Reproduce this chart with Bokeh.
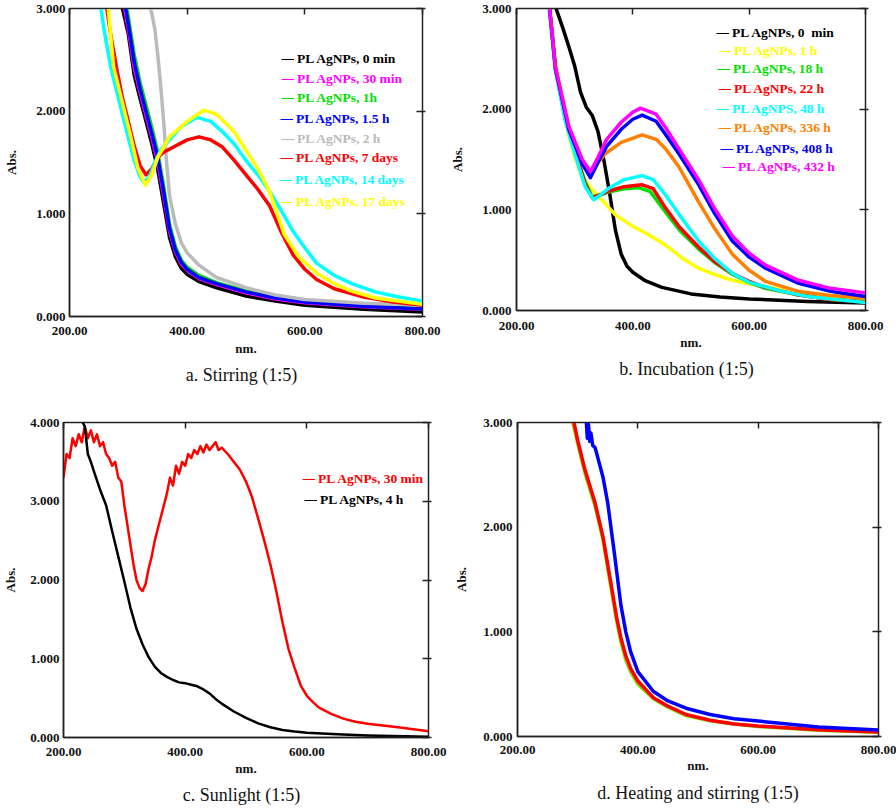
import numpy as np
from bokeh.plotting import figure
from bokeh.models import (LinearAxis, FixedTicker, PrintfTickFormatter, Range1d,
                          Legend, LegendItem, Title, CustomLabelingPolicy)
from bokeh.layouts import column, row
from bokeh.embed import file_html
from bokeh.resources import INLINE

# ---------------- data (wavelength nm, absorbance) ----------------
# Panel a: Stirring (1:5)
a_labels = ["PL AgNPs, 0 min", "PL AgNPs, 30 min", "PL AgNPs, 1h", "PL AgNPs, 1.5 h",
            "PL AgNPs, 2 h", "PL AgNPs, 7 days", "PL AgNPs, 14 days", "PL AgNPs, 17 days"]
a_colors = ["#000000", "#ff00ff", "#00e000", "#0000ff", "#bbbbbb", "#ff0000", "#00ffff", "#ffff00"]
a_nm = [
    [288, 300, 310, 320, 330, 340, 350, 360, 370, 380, 390, 400, 420, 450, 500, 550, 600, 700, 800],
    [292, 300, 310, 320, 330, 340, 350, 360, 370, 380, 390, 400, 420, 450, 500, 550, 600, 700, 800],
    [296, 300, 310, 320, 330, 340, 350, 360, 370, 380, 390, 400, 420, 450, 500, 550, 600, 700, 800],
    [294, 300, 310, 320, 330, 340, 350, 360, 370, 380, 390, 400, 420, 450, 500, 550, 600, 700, 800],
    [335, 340, 345, 350, 355, 360, 365, 370, 380, 390, 400, 420, 450, 500, 550, 600, 700, 800],
    [262, 270, 280, 290, 300, 310, 320, 330, 340, 350, 360, 380, 400, 420, 440, 460, 480, 500, 520,
     540, 560, 580, 600, 620, 650, 700, 750, 800],
    [252, 260, 270, 280, 290, 300, 310, 320, 326, 335, 345, 355, 370, 390, 417, 440, 460, 480, 500,
     520, 540, 560, 580, 600, 620, 650, 680, 720, 760, 800],
    [265, 275, 290, 303, 316, 329, 340, 350, 370, 400, 428, 450, 480, 500, 520, 540, 565, 590, 621,
     650, 678, 720, 800],
]
a_abs = [
    [3.05, 2.75, 2.35, 2.12, 1.90, 1.68, 1.43, 1.10, 0.77, 0.58, 0.47, 0.41, 0.34, 0.28, 0.20, 0.15, 0.11, 0.07, 0.045],
    [3.05, 2.80, 2.42, 2.18, 1.96, 1.74, 1.50, 1.18, 0.83, 0.63, 0.51, 0.45, 0.37, 0.31, 0.23, 0.17, 0.135, 0.095, 0.07],
    [3.05, 2.92, 2.55, 2.28, 2.06, 1.84, 1.60, 1.27, 0.90, 0.68, 0.55, 0.48, 0.40, 0.33, 0.25, 0.19, 0.15, 0.105, 0.075],
    [3.05, 2.85, 2.48, 2.22, 2.00, 1.78, 1.55, 1.22, 0.86, 0.65, 0.53, 0.46, 0.38, 0.32, 0.24, 0.18, 0.14, 0.10, 0.072],
    [3.05, 2.95, 2.80, 2.55, 2.25, 1.90, 1.50, 1.18, 0.90, 0.72, 0.62, 0.50, 0.38, 0.28, 0.21, 0.165, 0.13, 0.115],
    [3.05, 2.75, 2.42, 2.13, 1.90, 1.66, 1.47, 1.38, 1.44, 1.55, 1.60, 1.66, 1.72, 1.75, 1.72, 1.65, 1.52, 1.38, 1.24,
     1.08, 0.82, 0.60, 0.46, 0.36, 0.27, 0.19, 0.14, 0.11],
    [3.05, 2.75, 2.43, 2.20, 1.97, 1.74, 1.52, 1.36, 1.31, 1.35, 1.50, 1.62, 1.72, 1.85, 1.94, 1.90, 1.80, 1.68, 1.52,
     1.38, 1.22, 1.03, 0.83, 0.67, 0.52, 0.40, 0.32, 0.24, 0.19, 0.15],
    [3.05, 2.43, 2.08, 1.78, 1.45, 1.28, 1.38, 1.55, 1.75, 1.90, 2.01, 1.97, 1.80, 1.62, 1.44, 1.22, 0.80, 0.58, 0.42,
     0.32, 0.25, 0.18, 0.12],
]

# Panel b: Incubation (1:5)
b_labels = ["PL AgNPs, 0  min", "PL AgNPs, 1 h", "PL AgNPs, 18 h", "PL AgNPs, 22 h",
            "PL AgNPS, 48 h", "PL AgNPs, 336 h", "PL AgNPs, 408 h", "PL AgNPs, 432 h"]
b_colors = ["#000000", "#ffff00", "#00e000", "#ff0000", "#00ffff", "#ff8000", "#0000ff", "#ff00ff"]
b_nm = [
    [265, 280, 290, 300, 310, 320, 330, 340, 350, 360, 370, 380, 390, 400, 420, 450, 500, 550, 600, 700, 800],
    [257, 267, 280, 290, 300, 313, 330, 353, 370, 399, 428, 456, 485, 513, 540, 571, 600, 657, 700, 800],
    [256, 267, 284, 301, 318, 330, 345, 360, 385, 410, 430, 456, 480, 513, 540, 571, 600, 628, 680, 740, 800],
    [256, 267, 284, 301, 318, 330, 345, 360, 385, 415, 435, 456, 480, 513, 540, 571, 600, 628, 680, 740, 800],
    [255, 267, 284, 301, 318, 333, 345, 360, 385, 416, 435, 456, 480, 513, 540, 571, 600, 657, 700, 800],
    [256, 267, 290, 313, 327, 340, 353, 380, 416, 440, 456, 480, 513, 540, 571, 600, 628, 685, 740, 800],
    [256, 267, 290, 313, 327, 340, 355, 380, 400, 416, 440, 456, 480, 513, 540, 571, 600, 628, 685, 740, 800],
    [256, 267, 290, 313, 327, 340, 355, 380, 400, 413, 440, 456, 480, 513, 540, 571, 600, 628, 685, 740, 800],
]
b_abs = [
    [3.05, 2.80, 2.62, 2.43, 2.17, 2.02, 1.94, 1.78, 1.50, 1.17, 0.80, 0.56, 0.44, 0.38, 0.30, 0.23, 0.165, 0.135, 0.115, 0.09, 0.075],
    [3.05, 2.50, 2.02, 1.74, 1.53, 1.32, 1.20, 1.06, 0.95, 0.84, 0.75, 0.65, 0.52, 0.42, 0.36, 0.30, 0.265, 0.21, 0.17, 0.11],
    [3.05, 2.40, 1.90, 1.57, 1.28, 1.13, 1.15, 1.18, 1.21, 1.22, 1.18, 0.98, 0.80, 0.61, 0.48, 0.36, 0.28, 0.22, 0.16, 0.11, 0.09],
    [3.05, 2.40, 1.90, 1.57, 1.26, 1.12, 1.15, 1.19, 1.23, 1.25, 1.21, 1.02, 0.83, 0.63, 0.49, 0.37, 0.29, 0.23, 0.16, 0.11, 0.085],
    [3.05, 2.38, 1.88, 1.54, 1.23, 1.10, 1.15, 1.22, 1.30, 1.34, 1.30, 1.15, 0.95, 0.69, 0.52, 0.37, 0.28, 0.19, 0.14, 0.08],
    [3.05, 2.40, 1.80, 1.46, 1.33, 1.47, 1.56, 1.67, 1.745, 1.70, 1.61, 1.42, 1.08, 0.82, 0.56, 0.40, 0.29, 0.19, 0.15, 0.125],
    [3.05, 2.40, 1.80, 1.46, 1.32, 1.47, 1.63, 1.80, 1.90, 1.94, 1.88, 1.75, 1.55, 1.25, 0.97, 0.69, 0.53, 0.42, 0.27, 0.19, 0.14],
    [3.05, 2.42, 1.83, 1.50, 1.38, 1.52, 1.70, 1.87, 1.97, 2.01, 1.95, 1.82, 1.60, 1.30, 1.02, 0.74, 0.57, 0.45, 0.30, 0.22, 0.175],
]

# Panel c: Sunlight (1:5)
c_labels = ["PL AgNPs, 30 min", "PL AgNPs, 4 h"]
c_colors = ["#ff0000", "#000000"]
c_nm = [
    [200, 205, 210, 215, 220, 225, 230, 235, 240, 245, 250, 255, 260, 265, 270, 275, 280, 285, 290, 295,
     300, 305, 310, 315, 320, 325, 330, 335, 340, 345, 350, 355, 360, 365, 370, 375, 380, 385, 390, 395,
     400, 405, 410, 415, 420, 425, 430, 435, 440, 445, 450, 455, 460, 470, 480, 490, 500, 510, 520, 530,
     540, 550, 560, 570, 580, 590, 600, 610, 620, 640, 660, 680, 700, 750, 800],
    [225, 235, 240, 245, 250, 260, 270, 280, 290, 300, 310, 320, 330, 340, 350, 360, 370, 380, 390, 400,
     410, 420, 430, 440, 450, 460, 480, 500, 520, 540, 560, 580, 600, 650, 700, 800],
]
c_abs = [
    [3.30, 3.60, 3.55, 3.80, 3.70, 3.85, 3.75, 3.95, 3.80, 3.90, 3.75, 3.85, 3.70, 3.75, 3.60, 3.55, 3.45, 3.50, 3.30, 3.25,
     2.95, 2.70, 2.45, 2.20, 2.00, 1.90, 1.86, 1.95, 2.15, 2.30, 2.50, 2.65, 2.80, 2.95, 3.10, 3.30, 3.20, 3.45, 3.35, 3.50,
     3.45, 3.60, 3.55, 3.65, 3.60, 3.70, 3.62, 3.72, 3.65, 3.70, 3.75, 3.65, 3.68, 3.60, 3.50, 3.40, 3.25, 3.05, 2.78, 2.50,
     2.20, 1.85, 1.46, 1.12, 0.88, 0.66, 0.53, 0.45, 0.38, 0.30, 0.24, 0.20, 0.175, 0.13, 0.08],
    [4.10, 3.95, 3.60, 3.50, 3.38, 3.15, 2.95, 2.62, 2.30, 1.98, 1.65, 1.38, 1.18, 1.02, 0.90, 0.82, 0.77, 0.73, 0.70, 0.69,
     0.67, 0.65, 0.61, 0.56, 0.49, 0.43, 0.33, 0.25, 0.18, 0.13, 0.095, 0.075, 0.06, 0.04, 0.025, 0.01],
]

# Panel d: Heating and stirring (1:5)
d_colors = ["#7fe000", "#ff0000", "#0000ff"]
d_nm = [
    [290, 300, 312, 329, 342, 356, 365, 372, 380, 388, 400, 426, 450, 480, 520, 560, 600, 700, 800],
    [292, 300, 312, 329, 342, 356, 365, 372, 380, 388, 400, 426, 450, 480, 520, 560, 600, 700, 800],
    [314, 316, 318, 320, 322, 325, 329, 342, 350, 361, 372, 380, 388, 400, 426, 450, 480, 520, 560, 600, 700, 800],
]
d_abs = [
    [3.05, 2.80, 2.52, 2.20, 1.88, 1.40, 1.10, 0.90, 0.73, 0.62, 0.50, 0.36, 0.28, 0.20, 0.15, 0.12, 0.095, 0.06, 0.04],
    [3.05, 2.83, 2.55, 2.23, 1.91, 1.44, 1.13, 0.94, 0.77, 0.65, 0.53, 0.37, 0.29, 0.21, 0.155, 0.12, 0.10, 0.065, 0.044],
    [3.05, 2.85, 2.98, 2.82, 2.90, 2.78, 2.76, 2.48, 2.23, 1.75, 1.25, 1.00, 0.81, 0.62, 0.43, 0.34, 0.27, 0.21, 0.17, 0.148, 0.09, 0.063],
]

x_ticks = [200, 400, 600, 800]

SERIF = "Liberation Serif"
AXC = "#222222"
TXT = "#111111"


def make_panel(bl, bt, fw, fh, br, bb, ymax, caption, cap_offset, cap_standoff,
               xl_standoff, nm_standoff, yl_tick_standoff, yl_standoff):
    p = figure(frame_width=fw, frame_height=fh, output_backend="svg", toolbar_location=None,
               x_range=Range1d(200, 800), y_range=Range1d(0, ymax),
               min_border_left=bl, min_border_top=bt,
               min_border_right=br, min_border_bottom=bb,
               background_fill_color="white", border_fill_color="white")
    p.grid.visible = False
    p.outline_line_color = AXC
    p.outline_line_width = 1.5
    yt = list(range(0, ymax + 1))
    for ax in (p.xaxis[0], p.yaxis[0]):
        ax.major_tick_in = 0
        ax.major_tick_out = 0
        ax.minor_tick_line_color = None
        ax.axis_line_color = AXC
        ax.axis_line_width = 1.5
        ax.major_label_text_font = SERIF
        ax.major_label_text_font_style = "bold"
        ax.major_label_text_font_size = "13px"
        ax.major_label_text_color = TXT
        ax.axis_label_text_font = SERIF
        ax.axis_label_text_font_style = "bold"
        ax.axis_label_text_font_size = "13px"
        ax.axis_label_text_color = TXT
    p.xaxis[0].ticker = FixedTicker(ticks=x_ticks)
    p.xaxis[0].formatter = PrintfTickFormatter(format="%.2f")
    p.xaxis[0].axis_label = "nm."
    p.xaxis[0].major_label_standoff = xl_standoff
    p.xaxis[0].axis_label_standoff = nm_standoff
    p.yaxis[0].ticker = FixedTicker(ticks=yt)
    p.yaxis[0].formatter = PrintfTickFormatter(format="%.3f")
    p.yaxis[0].axis_label = "Abs."
    p.yaxis[0].major_label_standoff = yl_tick_standoff
    p.yaxis[0].axis_label_standoff = yl_standoff
    # mirrored tick marks on the top and right edges (labels filtered out)
    no_labels = "for (const i of indices) indices.unset(i)"
    top = LinearAxis(ticker=FixedTicker(ticks=x_ticks), major_label_text_font_size="2px",
                     major_label_policy=CustomLabelingPolicy(code=no_labels),
                     major_label_standoff=0, major_tick_in=6, major_tick_out=0,
                     minor_tick_line_color=None, axis_line_color=AXC,
                     major_tick_line_color=AXC, major_tick_line_width=1.5)
    right = LinearAxis(ticker=FixedTicker(ticks=yt), major_label_text_font_size="2px",
                       major_label_policy=CustomLabelingPolicy(code=no_labels),
                       major_label_standoff=0, major_tick_in=6, major_tick_out=3,
                       minor_tick_line_color=None, axis_line_color=AXC,
                       major_tick_line_color=AXC, major_tick_line_width=1.5)
    p.add_layout(top, "above")
    p.add_layout(right, "right")
    p.add_layout(Title(text=caption, align="center", offset=cap_offset, standoff=cap_standoff,
                       text_font=SERIF, text_font_size="18px", text_font_style="normal",
                       text_color=TXT), "below")
    return p


def add_series(p, nms, abss, colors, lw):
    rs = []
    for nm, ab, c in zip(nms, abss, colors):
        p.line(nm, ab, line_color=c, line_width=lw, line_join="round")
        rs.append(p.line(nm, ab, line_color=c, line_width=1))
    return rs


def add_legends(p, rs, labels, colors, xs, ycs, frame_bottom_abs, frame_left_abs):
    for r, lab, c, x, yc in zip(rs, labels, colors, xs, ycs):
        lg = Legend(items=[LegendItem(label=lab, renderers=[r])],
                    location=(x - frame_left_abs, frame_bottom_abs - (yc + 8)),
                    padding=0, margin=0, spacing=0, border_line_color=None,
                    background_fill_alpha=0, glyph_width=13, glyph_height=16,
                    label_height=16, label_standoff=3, label_text_font=SERIF,
                    label_text_font_style="bold", label_text_font_size="13.5px",
                    label_text_baseline="middle", label_text_color=c)
        p.add_layout(lg, "center")


# ---- panel a: frame x 69..422, y 8..316 (figure at 0,0; 446 x 406) ----
pa = make_panel(69, 8, 353, 308, 24, 90, 3, "a.   Stirring (1:5)", -6, 8,
                xl_standoff=10, nm_standoff=3, yl_tick_standoff=4, yl_standoff=14)
ra = add_series(pa, a_nm, a_abs, a_colors, 3.5)
add_legends(pa, ra, a_labels, a_colors,
            [281, 281, 281, 280, 281, 280, 279, 280],
            [59, 79, 98, 119, 139, 158, 180, 202], 316, 69)

# ---- panel b: frame x 516..865, y 7..309 (figure at 446,0; 448 x 406) ----
pb = make_panel(70, 7, 349, 302, 29, 97, 3, "b.   Incubation (1:5)", -5, 8,
                xl_standoff=11, nm_standoff=2, yl_tick_standoff=5, yl_standoff=14)
rb = add_series(pb, b_nm, b_abs, b_colors, 3.5)
add_legends(pb, rb, b_labels, b_colors,
            [716, 718, 717, 718, 716, 718, 720, 722],
            [32, 50, 68, 88, 108, 127, 148, 166], 309, 516)

# ---- panel c: frame x 58..423, y 419..734 (figure at 0,406; 446 x 400) ----
pc = make_panel(58, 13, 365, 315, 23, 72, 4, "c.   Sunlight (1:5)", -4, 8,
                xl_standoff=10, nm_standoff=2, yl_tick_standoff=4, yl_standoff=9)
rc = add_series(pc, c_nm, c_abs, c_colors, 2.5)
add_legends(pc, rc, c_labels, c_colors, [297, 299], [476, 497], 734, 58)

# ---- panel d: frame x 509..870, y 422..736 (figure at 446,406; 448 x 400) ----
pdd = make_panel(63, 16, 361, 314, 24, 70, 3, "d. Heating and stirring (1:5)", 10, 10,
                 xl_standoff=9, nm_standoff=1, yl_tick_standoff=5, yl_standoff=11)
add_series(pdd, d_nm, d_abs, d_colors, 3.5)

layout = column(row(pa, pb), row(pc, pdd))
open("out.html", "w").write(file_html(layout, INLINE))
